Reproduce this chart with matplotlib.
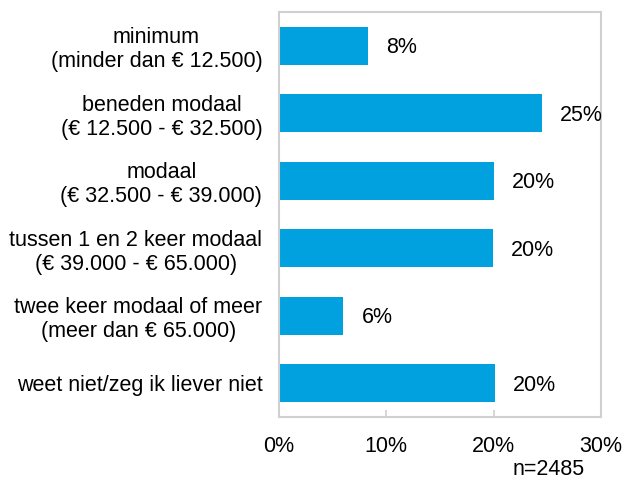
import matplotlib
matplotlib.use("Agg")
import matplotlib.pyplot as plt

# data
categories = [
    "minimum\n(minder dan € 12.500)",
    "beneden modaal\n(€ 12.500 - € 32.500)",
    "modaal\n(€ 32.500 - € 39.000)",
    "tussen 1 en 2 keer modaal\n(€ 39.000 - € 65.000)",
    "twee keer modaal of meer\n(meer dan € 65.000)",
    "weet niet/zeg ik liever niet",
]
values = [8.3, 24.5, 20.0, 19.9, 6.0, 20.1]
value_labels = ["8%", "25%", "20%", "20%", "6%", "20%"]
xticks = [0, 10, 20, 30]
xtick_labels = ["0%", "10%", "20%", "30%"]

plt.rcParams['font.family'] = ['Liberation Sans', 'DejaVu Sans']

fig = plt.figure(figsize=(6.27, 4.79), dpi=100)
ax = fig.add_axes([0.445, 0.1294, 0.5135, 0.8456])

bar_color = "#00A1DE"
grey = "#D0D0D0"
fs = 15.5

ypos = list(range(len(categories)))
ax.barh(ypos, values, height=0.56, color=bar_color, zorder=2)
ax.set_ylim(len(categories) - 0.5, -0.5)
ax.set_xlim(0, 30)

# value labels next to the bars
for y, v, lab in zip(ypos, values, value_labels):
    ax.annotate(lab, (v, y), xytext=(18, -2), textcoords="offset pixels",
                ha="left", va="center", fontsize=fs, clip_on=False)

ax.set_yticks(ypos)
ax.set_yticklabels(categories, fontsize=fs, linespacing=1.2)
for t in ax.get_yticklabels():
    t.set_multialignment("center")
ax.tick_params(axis="y", length=0, pad=12)

ax.set_xticks(xticks)
ax.set_xticklabels(xtick_labels, fontsize=fs)
ax.tick_params(axis="x", direction="in", length=5, width=1.2, color=grey, pad=14)

for s in ax.spines.values():
    s.set_color(grey)
    s.set_linewidth(1.5)

fig.text(0.933, 0.02, "n=2485", ha="right", va="center", fontsize=fs)

fig.savefig("out.png", dpi=100)
